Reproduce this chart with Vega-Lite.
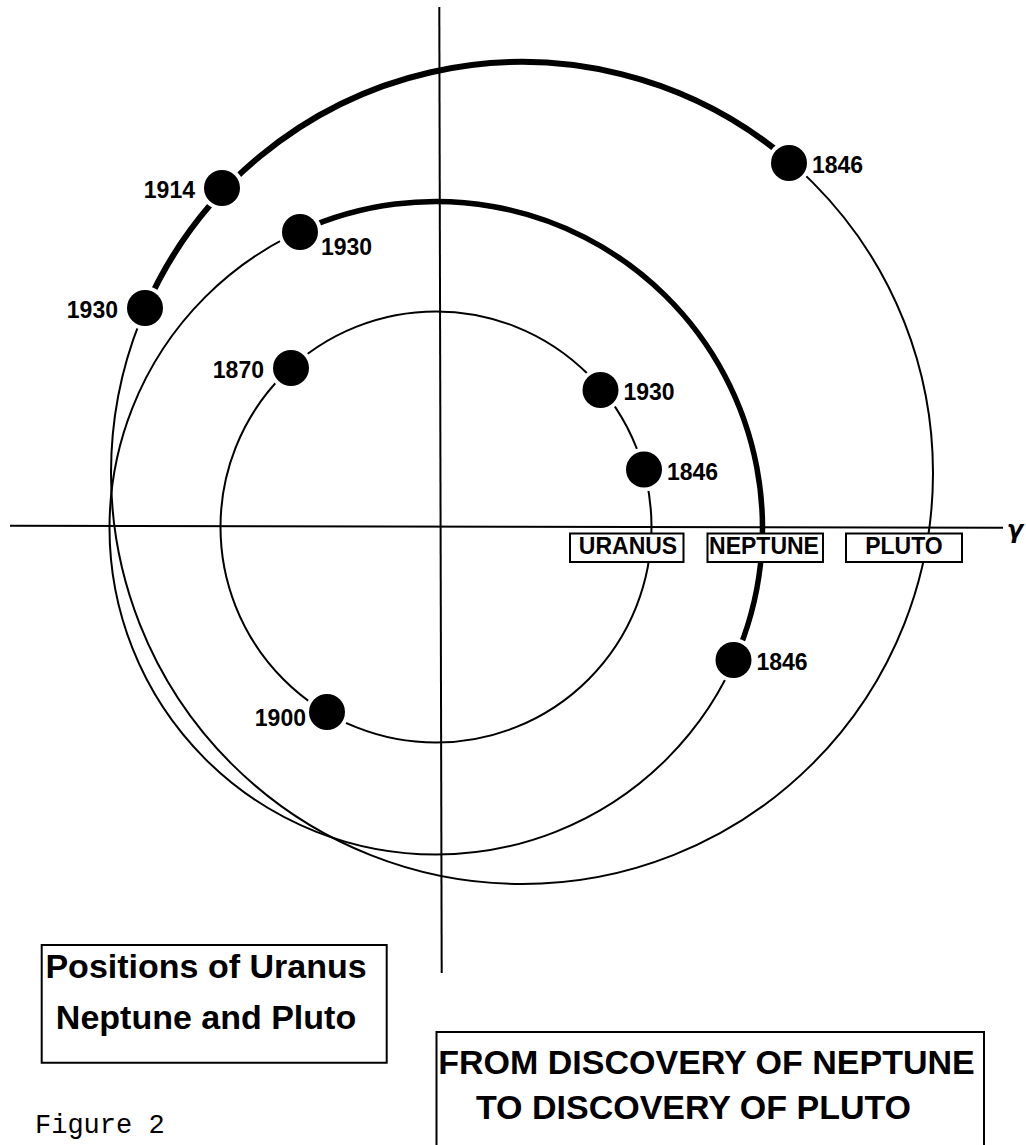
{
  "$schema": "https://vega.github.io/schema/vega-lite/v6.json",
  "width": 1026,
  "height": 1145,
  "autosize": {"type": "none"},
  "padding": 0,
  "background": "white",
  "config": {"view": {"stroke": null}},
  "datasets": {
    "axes": [
      {"x": -430, "y": 0.3, "x2": 563, "y2": -1.7},
      {"x": -0.7, "y": 519, "x2": 1.7, "y2": -447}
    ],
    "orbits": [
      {"planet": "Uranus", "x": -4, "y": -1},
      {"planet": "Neptune", "x": -4, "y": -2},
      {"planet": "Pluto", "x": 82, "y": 53}
    ],
    "positions": [
      {"planet": "Pluto", "year": "1846", "x": 349, "y": 363, "side": "right"},
      {"planet": "Pluto", "year": "1914", "x": -218, "y": 338, "side": "left"},
      {"planet": "Pluto", "year": "1930", "x": -295, "y": 218, "side": "left"},
      {"planet": "Neptune", "year": "1846", "x": 293.5, "y": -134, "side": "right"},
      {"planet": "Neptune", "year": "1930", "x": -140, "y": 294, "side": "below"},
      {"planet": "Uranus", "year": "1846", "x": 204, "y": 56.5, "side": "right"},
      {"planet": "Uranus", "year": "1870", "x": -149, "y": 158, "side": "left"},
      {"planet": "Uranus", "year": "1900", "x": -113, "y": -186, "side": "lowleft"},
      {"planet": "Uranus", "year": "1930", "x": 160.5, "y": 136, "side": "right"}
    ],
    "nameBoxes": [
      {"name": "URANUS", "x": 130, "x2": 243.5, "y": -7.5, "y2": -36},
      {"name": "NEPTUNE", "x": 267.5, "x2": 383, "y": -7.5, "y2": -36},
      {"name": "PLUTO", "x": 406, "x2": 522, "y": -7.5, "y2": -36}
    ],
    "nameLabels": [
      {"name": "URANUS", "x": 188, "y": -21},
      {"name": "NEPTUNE", "x": 324, "y": -21},
      {"name": "PLUTO", "x": 464, "y": -21}
    ],
    "frames": [
      {"box": "legend", "x": -398.3, "x2": -53.3, "y": -419, "y2": -536.7},
      {"box": "caption", "x": -3.5, "x2": 544, "y": -506, "y2": -640}
    ],
    "frameText": [
      {"text": "Positions of Uranus", "x": -234, "y": -442},
      {"text": "Neptune and Pluto", "x": -234, "y": -492.5},
      {"text": "FROM DISCOVERY OF NEPTUNE", "x": 266.5, "y": -537.8},
      {"text": "TO DISCOVERY OF PLUTO", "x": 253.5, "y": -582.8}
    ],
    "notes": [
      {"kind": "figure", "text": "Figure 2", "x": -405, "y": -607},
      {"kind": "vernal", "text": "γ", "x": 575, "y": -12}
    ]
  },
  "encoding": {
    "x": {"field": "x", "type": "quantitative", "scale": {"domain": [-440, 586], "nice": false, "zero": false}, "axis": null},
    "y": {"field": "y", "type": "quantitative", "scale": {"domain": [-619, 526], "nice": false, "zero": false}, "axis": null}
  },
  "layer": [
    {
      "data": {"name": "axes"},
      "mark": {"type": "rule", "color": "black", "strokeWidth": 2},
      "encoding": {"x2": {"field": "x2"}, "y2": {"field": "y2"}}
    },
    {
      "data": {"name": "orbits"},
      "transform": [{"filter": "datum.planet === 'Uranus'"}],
      "mark": {"type": "point", "shape": "circle", "size": 185761, "filled": false, "color": "black", "strokeWidth": 2, "opacity": 1}
    },
    {
      "data": {"name": "orbits"},
      "transform": [{"filter": "datum.planet === 'Neptune'"}],
      "mark": {"type": "point", "shape": "circle", "size": 426409, "filled": false, "color": "black", "strokeWidth": 2, "opacity": 1}
    },
    {
      "data": {"name": "orbits"},
      "transform": [{"filter": "datum.planet === 'Neptune'"}],
      "mark": {"type": "point", "shape": "M 0.914 0.4056 A 1 1 0 0 0 -0.4175 -0.9087", "size": 426409, "filled": false, "color": "black", "strokeWidth": 5.5, "strokeCap": "butt", "opacity": 1}
    },
    {
      "data": {"name": "orbits"},
      "transform": [{"filter": "datum.planet === 'Pluto'"}],
      "mark": {"type": "point", "shape": "circle", "size": 675684, "filled": false, "color": "black", "strokeWidth": 2, "opacity": 1}
    },
    {
      "data": {"name": "orbits"},
      "transform": [{"filter": "datum.planet === 'Pluto'"}],
      "mark": {"type": "point", "shape": "M 0.6526 -0.7577 A 1 1 0 0 0 -0.9161 -0.401", "size": 675684, "filled": false, "color": "black", "strokeWidth": 6, "strokeCap": "butt", "opacity": 1}
    },
    {
      "data": {"name": "positions"},
      "mark": {"type": "point", "shape": "circle", "size": 1936, "filled": true, "color": "white", "opacity": 1, "strokeWidth": 0}
    },
    {
      "data": {"name": "positions"},
      "mark": {"type": "point", "shape": "circle", "size": 1296, "filled": true, "color": "black", "opacity": 1, "strokeWidth": 0}
    },
    {
      "data": {"name": "positions"},
      "transform": [{"filter": "datum.side === 'right'"}],
      "mark": {"type": "text", "align": "left", "baseline": "middle", "dx": 23, "dy": 3.4, "font": "Liberation Sans", "fontWeight": "bold", "fontSize": 23, "color": "black"},
      "encoding": {"text": {"field": "year"}}
    },
    {
      "data": {"name": "positions"},
      "transform": [{"filter": "datum.side === 'left'"}],
      "mark": {"type": "text", "align": "right", "baseline": "middle", "dx": -27, "dy": 3.4, "font": "Liberation Sans", "fontWeight": "bold", "fontSize": 23, "color": "black"},
      "encoding": {"text": {"field": "year"}}
    },
    {
      "data": {"name": "positions"},
      "transform": [{"filter": "datum.side === 'below'"}],
      "mark": {"type": "text", "align": "left", "baseline": "middle", "dx": 21, "dy": 16.4, "font": "Liberation Sans", "fontWeight": "bold", "fontSize": 23, "color": "black"},
      "encoding": {"text": {"field": "year"}}
    },
    {
      "data": {"name": "positions"},
      "transform": [{"filter": "datum.side === 'lowleft'"}],
      "mark": {"type": "text", "align": "right", "baseline": "middle", "dx": -21, "dy": 7.4, "font": "Liberation Sans", "fontWeight": "bold", "fontSize": 23, "color": "black"},
      "encoding": {"text": {"field": "year"}}
    },
    {
      "data": {"name": "nameBoxes"},
      "mark": {"type": "rect", "fill": "white", "stroke": "black", "strokeWidth": 2},
      "encoding": {"x2": {"field": "x2"}, "y2": {"field": "y2"}}
    },
    {
      "data": {"name": "nameLabels"},
      "mark": {"type": "text", "align": "center", "baseline": "middle", "font": "Liberation Sans", "fontWeight": "bold", "fontSize": 23, "color": "black"},
      "encoding": {"text": {"field": "name"}}
    },
    {
      "data": {"name": "frames"},
      "mark": {"type": "rect", "fill": "white", "stroke": "black", "strokeWidth": 2},
      "encoding": {"x2": {"field": "x2"}, "y2": {"field": "y2"}}
    },
    {
      "data": {"name": "frameText"},
      "mark": {"type": "text", "align": "center", "baseline": "middle", "font": "Liberation Sans", "fontWeight": "bold", "fontSize": 34, "color": "black"},
      "encoding": {"text": {"field": "text"}}
    },
    {
      "data": {"name": "notes"},
      "transform": [{"filter": "datum.kind === 'figure'"}],
      "mark": {"type": "text", "align": "left", "baseline": "alphabetic", "font": "Liberation Mono", "fontSize": 27, "color": "black"},
      "encoding": {"text": {"field": "text"}}
    },
    {
      "data": {"name": "notes"},
      "transform": [{"filter": "datum.kind === 'vernal'"}],
      "mark": {"type": "text", "align": "center", "baseline": "alphabetic", "font": "DejaVu Sans", "fontWeight": "bold", "fontStyle": "italic", "fontSize": 24, "color": "black"},
      "encoding": {"text": {"field": "text"}}
    }
  ]
}
